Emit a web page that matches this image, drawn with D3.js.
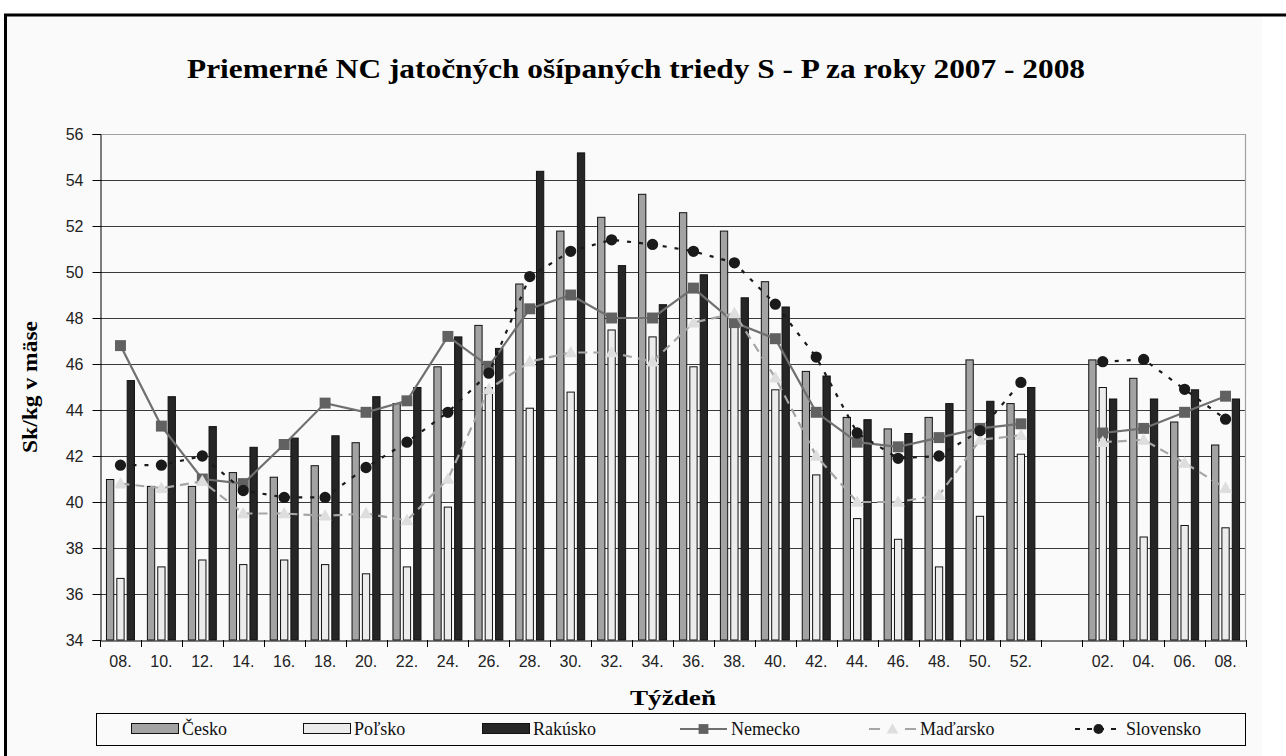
<!DOCTYPE html>
<html><head><meta charset="utf-8">
<script src="https://cdn.jsdelivr.net/npm/d3@7"></script>
<style>body{margin:0;background:#fff;overflow:hidden}</style>
</head><body><svg id="c" width="1286" height="756"></svg>
<script>
const weeks = ["07-08","07-10","07-12","07-14","07-16","07-18","07-20","07-22","07-24","07-26","07-28","07-30","07-32","07-34","07-36","07-38","07-40","07-42","07-44","07-46","07-48","07-50","07-52","gap","08-02","08-04","08-06","08-08"];
const weekLabels = ["08.","10.","12.","14.","16.","18.","20.","22.","24.","26.","28.","30.","32.","34.","36.","38.","40.","42.","44.","46.","48.","50.","52.","","02.","04.","06.","08."];
const yTicks = [34,36,38,40,42,44,46,48,50,52,54,56];

const cesko    = [41.0,40.7,40.7,41.3,41.1,41.6,42.6,44.3,45.9,47.7,49.5,51.8,52.4,53.4,52.6,51.8,49.6,45.7,43.7,43.2,43.7,46.2,44.3,null,46.2,45.4,43.5,42.5];
const polsko   = [36.7,37.2,37.5,37.3,37.5,37.3,36.9,37.2,39.8,45.0,44.1,44.8,47.5,47.2,45.9,47.9,44.9,41.2,39.3,38.4,37.2,39.4,42.1,null,45.0,38.5,39.0,38.9];
const rakusko  = [45.3,44.6,43.3,42.4,42.8,42.9,44.6,45.0,47.2,46.7,54.4,55.2,50.3,48.6,49.9,48.9,48.5,45.5,43.6,43.0,44.3,44.4,45.0,null,44.5,44.5,44.9,44.5];
const nemecko  = [46.8,43.3,41.0,40.8,42.5,44.3,43.9,44.4,47.2,45.9,48.4,49.0,48.0,48.0,49.3,47.8,47.1,43.9,42.6,42.4,42.8,43.2,43.4,null,43.0,43.2,43.9,44.6];
const madarsko = [40.8,40.6,40.9,39.5,39.5,39.4,39.5,39.2,41.0,44.9,46.1,46.5,46.5,46.1,47.8,48.2,45.4,42.0,40.0,40.0,40.3,42.7,42.9,null,42.6,42.7,41.7,40.6];
const slovensko= [41.6,41.6,42.0,40.5,40.2,40.2,41.5,42.6,43.9,45.6,49.8,50.9,51.4,51.2,50.9,50.4,48.6,46.3,43.0,41.9,42.0,43.1,45.2,null,46.1,46.2,44.9,43.6];

const barSeries = [
  {name:"Česko", values:cesko, fill:"#a3a3a3"},
  {name:"Poľsko", values:polsko, fill:"#ececec"},
  {name:"Rakúsko", values:rakusko, fill:"#262626"}
];
const lineSeries = [
  {name:"Nemecko", values:nemecko, stroke:"#707070", dash:null, marker:"square", mfill:"#616161"},
  {name:"Maďarsko", values:madarsko, stroke:"#a6a6a6", dash:"9,6", marker:"triangle", mfill:"#dedede"},
  {name:"Slovensko", values:slovensko, stroke:"#1a1a1a", dash:"4,8", marker:"circle", mfill:"#1a1a1a"}
];

const SERIF = "'Liberation Serif','Times New Roman',serif";
const SANS = "'Liberation Sans',Arial,sans-serif";

const svg = d3.select("#c");
const L=100, R=1246, T=134, B=640;

// frame
svg.append("rect").attr("x",7).attr("y",16).attr("width",1255).attr("height",740).attr("fill","#fafafa");
svg.append("line").attr("x1",4).attr("x2",1286).attr("y1",15).attr("y2",15).attr("stroke","#000").attr("stroke-width",3);
svg.append("line").attr("x1",5.5).attr("x2",5.5).attr("y1",14).attr("y2",756).attr("stroke","#000").attr("stroke-width",3);

svg.append("text").attr("x",636).attr("y",78).attr("text-anchor","middle")
  .attr("font-family",SERIF).attr("font-weight","bold").attr("font-size",28)
  .attr("textLength",898).attr("lengthAdjust","spacingAndGlyphs")
  .text("Priemerné NC jatočných ošípaných triedy S - P za roky 2007 - 2008");

const x = d3.scaleBand().domain(weeks).range([L,R]).paddingInner(0).paddingOuter(0);
const y = d3.scaleLinear().domain([34,56]).range([B,T]);
const x1 = d3.scaleBand().domain(barSeries.map(d=>d.name)).range([0,29]).paddingInner(0.2);
const gOff = (x.bandwidth()-29)/2;

// gridlines
svg.append("g").selectAll("line").data(yTicks.filter(v=>v>34&&v<56)).join("line")
  .attr("x1",L).attr("x2",R).attr("y1",d=>Math.round(y(d))+0.5).attr("y2",d=>Math.round(y(d))+0.5)
  .attr("stroke","#3a3a3a").attr("stroke-width",1);
svg.append("path").attr("d",`M${L},${T+0.5}H${R-0.5}V${B}`).attr("fill","none").attr("stroke","#a0a0a0").attr("stroke-width",1.2);

// bars
const bars = svg.append("g");
barSeries.forEach(s=>{
  bars.append("g").selectAll("rect").data(weeks.map((w,i)=>({w,v:s.values[i]})).filter(d=>d.v!=null)).join("rect")
    .attr("x",d=>x(d.w)+gOff+x1(s.name)+0.5)
    .attr("y",d=>y(d.v)+0.5)
    .attr("width",x1.bandwidth()-1)
    .attr("height",d=>B-y(d.v)-0.5)
    .attr("fill",s.fill).attr("stroke","#111").attr("stroke-width",1);
});

// axes
const yAxis = d3.axisLeft(y).tickValues(yTicks).tickSize(8).tickPadding(9);
const gy = svg.append("g").attr("transform",`translate(${L+0.5},0)`).call(yAxis);
gy.select(".domain").attr("stroke","#000");
gy.selectAll(".tick line").attr("stroke","#000");
gy.selectAll("text").attr("font-family",SANS).attr("font-size",16).attr("fill","#222");

const xAxis = d3.axisBottom(x).tickSize(0).tickPadding(15).tickFormat((d,i)=>weekLabels[i]);
const gx = svg.append("g").attr("transform",`translate(0,${B+0.5})`).call(xAxis);
gx.select(".domain").attr("stroke","#000");
gx.selectAll("text").attr("font-family",SANS).attr("font-size",16).attr("fill","#222");
svg.append("g").selectAll("line").data(d3.range(weeks.length+1)).join("line")
  .attr("x1",i=>Math.round(L+i*x.step())+0.5).attr("x2",i=>Math.round(L+i*x.step())+0.5)
  .attr("y1",B).attr("y2",B+7).attr("stroke","#000");

// lines
const sym = {square:d3.symbolSquare, triangle:d3.symbolTriangle, circle:d3.symbolCircle};
const symSize = {square:120, triangle:75, circle:100};
lineSeries.forEach(s=>{
  const pts = weeks.map((w,i)=>({w,v:s.values[i]}));
  const line = d3.line().defined(d=>d.v!=null).x(d=>x(d.w)+x.bandwidth()/2).y(d=>y(d.v));
  svg.append("path").datum(pts).attr("d",line).attr("fill","none")
    .attr("stroke",s.stroke).attr("stroke-width",2.2).attr("stroke-dasharray",s.dash);
  svg.append("g").selectAll("path").data(pts.filter(d=>d.v!=null)).join("path")
    .attr("transform",d=>`translate(${x(d.w)+x.bandwidth()/2},${y(d.v)+(s.marker==="triangle"?1:0)})`)
    .attr("d",d3.symbol().type(sym[s.marker]).size(symSize[s.marker]))
    .attr("fill",s.mfill);
});

// axis titles
svg.append("text").attr("transform",`translate(37,${(T+B)/2}) rotate(-90)`).attr("text-anchor","middle")
  .attr("font-family",SERIF).attr("font-weight","bold").attr("font-size",20)
  .attr("textLength",132).attr("lengthAdjust","spacingAndGlyphs").text("Sk/kg v mäse");
svg.append("text").attr("x",(L+R)/2).attr("y",705).attr("text-anchor","middle")
  .attr("font-family",SERIF).attr("font-weight","bold").attr("font-size",22)
  .attr("textLength",86).attr("lengthAdjust","spacingAndGlyphs").text("Týždeň");

// legend
const lg = svg.append("g");
lg.append("rect").attr("x",96.5).attr("y",713.5).attr("width",1149).attr("height",32).attr("fill","none").attr("stroke","#000");
const ly = 729;
const legendX = [131,303,482,680,869,1075];
const items = barSeries.map(s=>({...s,type:"bar"})).concat(lineSeries.map(s=>({...s,type:"line"})));
items.forEach((s,i)=>{
  const lx = legendX[i];
  if(s.type==="bar"){
    lg.append("rect").attr("x",lx+0.5).attr("y",ly-5.5).attr("width",47).attr("height",10).attr("fill",s.fill).attr("stroke","#111");
  } else {
    lg.append("line").attr("x1",lx).attr("x2",lx+47).attr("y1",ly).attr("y2",ly).attr("stroke",s.stroke).attr("stroke-width",2.2)
      .attr("stroke-dasharray",s.dash? (s.marker==="circle"?"5,7":"11,25"):null);
    lg.append("path").attr("transform",`translate(${lx+23.5},${ly+(s.marker==="triangle"?1:0)})`)
      .attr("d",d3.symbol().type(sym[s.marker]).size(symSize[s.marker]*0.8)).attr("fill",s.mfill);
  }
  lg.append("text").attr("x",lx+51).attr("y",ly+6).attr("font-family",SERIF).attr("font-size",18).attr("fill","#111").text(s.name);
});
</script></body></html>
